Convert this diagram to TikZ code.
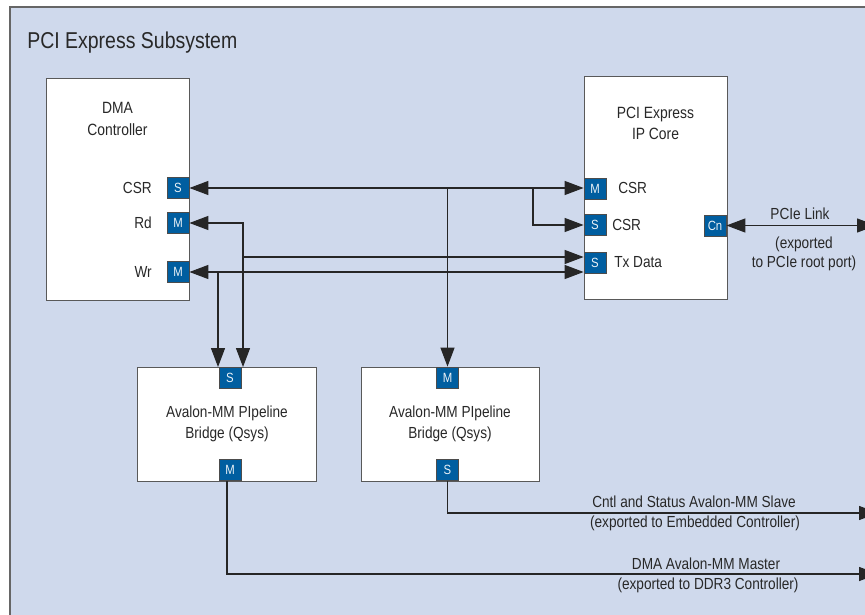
\documentclass[tikz,border=0pt]{standalone}
\usepackage{fontspec}
\setmainfont{Liberation Sans}[FakeStretch=0.85]
\usetikzlibrary{arrows.meta}

\definecolor{frameblue}{RGB}{207,217,236}
\definecolor{portblue}{RGB}{0,94,160}
\definecolor{inkgray}{RGB}{40,40,40}

\begin{document}
\begin{tikzpicture}[x=0.025cm, y=-0.025cm, >={Triangle[length=13.5pt,width=10pt]},
    block/.style={draw=black!65, fill=white, line width=0.8pt, anchor=north west, inner sep=0pt},
    port/.style={draw=black!70, fill=portblue, text=portblue!8, line width=0.6pt, inner sep=0pt,
        minimum width=0.55cm, minimum height=0.525cm, font=\fontsize{9.5}{9.5}\selectfont},
    txt/.style={text=inkgray, font=\fontsize{11.4}{14.5}\selectfont, inner sep=0pt, align=center},
    wire/.style={draw=black!85, line width=0.75pt}]

    \clip (0,0) rectangle (865,615);
    \fill[white] (0,0) rectangle (865,615);
    \draw[draw=black!60, fill=frameblue, line width=0.8pt] (10,7) rectangle (900,650);

    \node[anchor=base west, text=inkgray, font=\fontsize{16.3}{18}\selectfont, inner sep=0pt] (title) at (27,49) {PCI Express Subsystem};

    \node[block, minimum width=3.575cm, minimum height=5.55cm] (dma) at (46,78) {};
    \node[block, minimum width=3.575cm, minimum height=5.575cm] (pcie) at (584,76) {};
    \node[block, minimum width=4.475cm, minimum height=2.85cm] (bridgea) at (137,367) {};
    \node[block, minimum width=4.45cm, minimum height=2.85cm] (bridgeb) at (361,367) {};

    \node[txt, font=\fontsize{11.6}{16}\selectfont] (dmatext) at (117.5,119) {DMA\\Controller};
    \node[txt, font=\fontsize{11.6}{15}\selectfont] (pcietext) at (655.5,123) {PCI Express\\IP Core};
    \node[txt] (bridgeatext) at (227,424) {Avalon-MM PIpeline\\Bridge (Qsys)};
    \node[txt] (bridgebtext) at (450,424) {Avalon-MM PIpeline\\Bridge (Qsys)};

    \node[port] (dmacsr) at (178,188) {S};
    \node[port] (dmard) at (178,223) {M};
    \node[port] (dmawr) at (178,272) {M};
    \node[txt, anchor=east] (dmacsrl) at (152,188) {CSR};
    \node[txt, anchor=east] (dmardl) at (152,223) {Rd};
    \node[txt, anchor=east] (dmawrl) at (152,272) {Wr};

    \node[port] (pcimcsr) at (595,188.5) {M};
    \node[port] (pciscsr) at (595,225) {S};
    \node[port] (pcitx) at (595,262.5) {S};
    \node[port] (pcicn) at (715,225.5) {Cn};
    \node[txt, anchor=west] (pcimcsrl) at (618,188) {CSR};
    \node[txt, anchor=west] (pciscsrl) at (612,225) {CSR};
    \node[txt, anchor=west] (pcitxl) at (614,262) {Tx Data};

    \node[port] (bridgeas) at (230,377.5) {S};
    \node[port] (bridgeam) at (230,470) {M};
    \node[port] (bridgebm) at (447.5,377.5) {M};
    \node[port] (bridgebs) at (447.5,470) {S};

    \coordinate (csrsplit) at (533,188);
    \coordinate (rdturn) at (243,257);
    \coordinate (wrturn) at (218,272);
    \coordinate (linkend) at (876,225.5);
    \coordinate (slaveend) at (878,513);
    \coordinate (masterend) at (878,574);

    \draw[wire, <->] (dmacsr.east) -- (pcimcsr.west |- dmacsr.east);
    \draw[wire, ->] (dmacsr.east -| bridgebm.north) -- (bridgebm.north);
    \draw[wire, ->] (csrsplit) |- (pciscsr.west);

    \draw[wire, <->] (dmard.east) -| (rdturn |- bridgea.north);
    \draw[wire, ->] (rdturn) -- (rdturn -| pcitx.west);
    \draw[wire, <->] (dmawr.east) -- (dmawr.east -| pcitx.west);
    \draw[wire, ->] (wrturn) -- (wrturn |- bridgea.north);

    \draw[wire, <->] (pcicn.east) -- (linkend);
    \node[txt] (linklabel) at (800,214) {PCIe Link};
    \node[txt, font=\fontsize{11.4}{13.5}\selectfont] (linknote) at (804,254) {(exported\\to PCIe root port)};

    \draw[wire, ->] (bridgebs.south) |- (slaveend);
    \node[txt] (slavelabel) at (694,502) {Cntl and Status Avalon-MM Slave};
    \node[txt] (slavenote) at (695,523) {(exported to Embedded Controller)};

    \draw[wire, ->] ([xshift=-3*0.025cm]bridgeam.south) |- (masterend);
    \node[txt] (masterlabel) at (706,564) {DMA Avalon-MM Master};
    \node[txt] (masternote) at (708,585) {(exported to DDR3 Controller)};

\end{tikzpicture}
\end{document}
